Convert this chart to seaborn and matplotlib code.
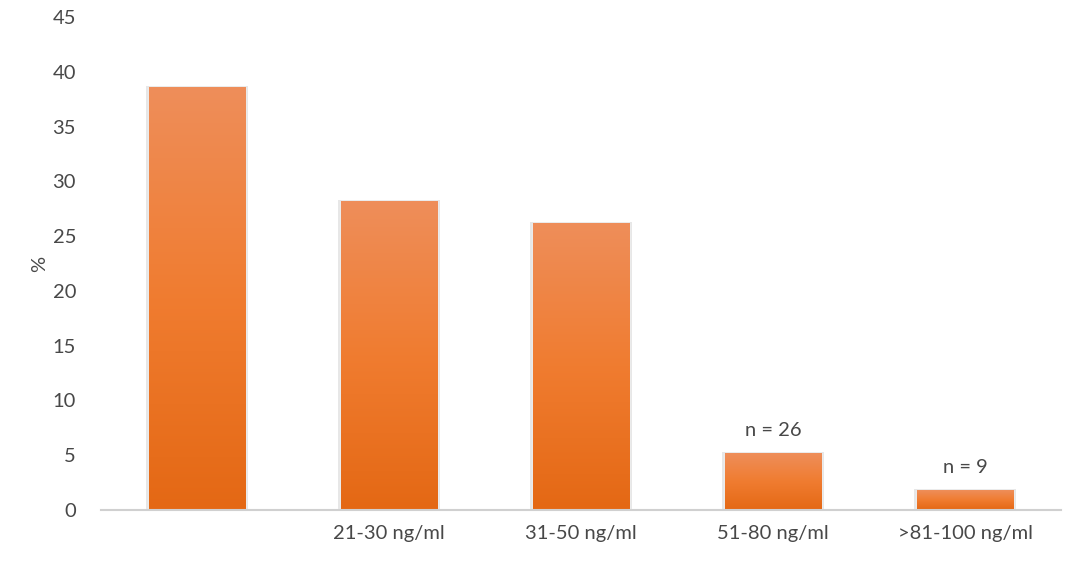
import numpy as np
import pandas as pd
import matplotlib
matplotlib.use("Agg")
import matplotlib.pyplot as plt
import seaborn as sns
from matplotlib.colors import LinearSegmentedColormap

# data
categories = ["", "21-30 ng/ml", "31-50 ng/ml", "51-80 ng/ml", ">81-100 ng/ml"]
percent = [38.6, 28.2, 26.2, 5.2, 1.8]
n_labels = ["", "", "", "n = 26", "n = 9"]

sns.set_theme(style="white")
plt.rcParams["font.family"] = ["Lato", "DejaVu Sans"]

df = pd.DataFrame({"group": range(len(categories)), "pct": percent})

fig = plt.figure(figsize=(10.78, 5.63), dpi=100)
ax = fig.add_axes([101 / 1078, 1 - 510 / 563, 960 / 1078, 493 / 563])

sns.barplot(data=df, x="group", y="pct", color="#EC7A30", width=0.505,
            ax=ax, saturation=1)

# vertical orange gradient inside each bar, plus a faint grey shadow
cmap = LinearSegmentedColormap.from_list("og", ["#E46814", "#F07C30", "#EE8E5A"])
grad = np.linspace(0, 1, 256).reshape(-1, 1)
for bar in list(ax.patches):
    x0, w, h = bar.get_x(), bar.get_width(), bar.get_height()
    sh = plt.Rectangle((x0 - 0.012, 0), w + 0.024, h + 0.1, color="#d8d8d8",
                       alpha=0.6, zorder=1, lw=0)
    ax.add_patch(sh)
    im = ax.imshow(grad, cmap=cmap, origin="lower", aspect="auto",
                   extent=[x0, x0 + w, 0, h], zorder=2)
    im.set_clip_path(bar)
    bar.set_zorder(2)

txt = "#484848"
for i, (v, lab) in enumerate(zip(percent, n_labels)):
    if lab:
        ax.text(i, v + 1.3, lab, ha="center", va="bottom", fontsize=14.5,
                color=txt)

ax.set_xlim(-0.5, len(categories) - 0.5)
ax.set_ylim(0, 45)
ax.set_yticks(range(0, 46, 5))
ax.set_xticks(range(len(categories)))
ax.set_xticklabels(categories)
ax.set_xlabel("")
ax.set_ylabel("%", fontsize=14.5, color=txt, labelpad=3)
ax.tick_params(axis="both", length=0, labelsize=14.5, labelcolor=txt)
ax.tick_params(axis="y", pad=18)
ax.tick_params(axis="x", pad=11)

for side in ["top", "right", "left"]:
    ax.spines[side].set_visible(False)
ax.spines["bottom"].set_color("#d0d0d0")
ax.spines["bottom"].set_linewidth(1.5)
ax.spines["bottom"].set_zorder(3)

fig.savefig("out.png", dpi=100)
